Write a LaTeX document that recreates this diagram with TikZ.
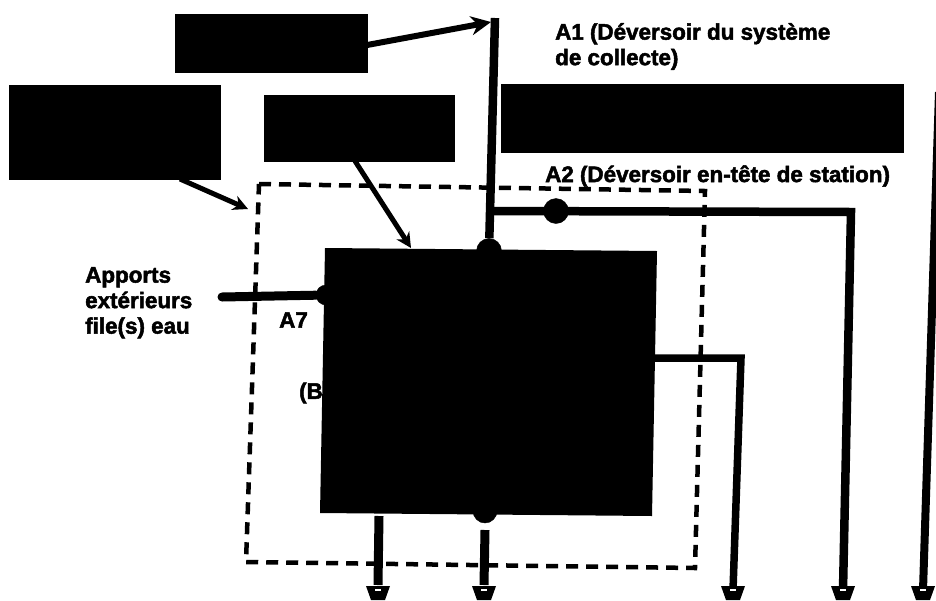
\documentclass[tikz,border=0pt]{standalone}
\usepackage{fontspec}
\setmainfont{Liberation Sans}[BoldFeatures={FakeBold=2.2}]
\usetikzlibrary{arrows.meta}
\tikzset{
  x=1pt,y=-1pt,
  blk/.style={fill=black,draw=black},
  dash box/.style={line width=4.5pt,dash pattern=on 12pt off 8pt},
  lbl/.style={font=\fontsize{22.4}{25.5}\selectfont\bfseries,inner sep=0pt,align=left},
  foot/.pic={\fill (-12,-4) -- (12,-4) -- (7,10) -- (-7,10) -- cycle; \fill[white] (-3,-1) rectangle (3,1);}
}
\begin{document}
\begin{tikzpicture}
\useasboundingbox (0,0) rectangle (936,600);
\node[blk,minimum width=192pt,minimum height=58pt,inner sep=0pt] (b1) at (271,43) {};
\node[blk,minimum width=211pt,minimum height=94pt,inner sep=0pt] (b2) at (115,132) {};
\node[blk,minimum width=190pt,minimum height=66pt,inner sep=0pt] (b3) at (359,128) {};
\node[blk,minimum width=402pt,minimum height=68pt,inner sep=0pt] (b4) at (702,118) {};
\coordinate (top) at (495,18);
\coordinate (j1) at (491,211);
\coordinate (c1) at (851,212);
\coordinate (f3) at (843,590);
\coordinate (f2) at (733,590);
\coordinate (f4) at (923,590);
\coordinate (t4) at (939,92);
\coordinate (e1) at (741,358);
\coordinate (e0) at (650,358);
\draw[dash box] (259,184) -- (705,191) -- (695,568) -- (246,562) -- cycle;
\node[lbl,anchor=west] (t5) at (299,393) {(B};
\fill (325,248) -- (657,251) -- (652,516) -- (320,513) -- cycle;
\node[blk,circle,minimum size=25pt,inner sep=0pt] (d1) at (489,251) {};
\node[blk,circle,minimum size=25pt,inner sep=0pt] (d2) at (556,211) {};
\node[blk,circle,minimum size=24pt,inner sep=0pt] (d3) at (485,511) {};
\node[blk,circle,minimum size=20pt,inner sep=0pt] (d4) at (326,295) {};
\draw[line width=8.5pt] (top) -- (d1);
\draw[line width=8.5pt] (j1) -- (c1) -- (f3);
\draw[line width=7.5pt] (e0) -- (e1) -- (f2);
\draw[line width=8pt] (t4) -- (f4);
\draw[line width=9pt,line cap=round] (222,297) -- (d4);
\draw[line width=9pt] (379,516) -- (378,585);
\draw[line width=9pt] (485,530) -- (484,585);
\pic at (378,590) {foot};
\pic at (484,590) {foot};
\pic at (f2) {foot};
\pic at (f3) {foot};
\pic at (f4) {foot};
\draw[line width=6pt,-{Stealth[length=20pt,width=19pt]}] (b1.east) ++(0,2) -- (491,22);
\draw[line width=5pt,-{Stealth[length=15pt,width=15pt]}] (180,179) -- (248,209);
\draw[line width=5pt,-{Stealth[length=15pt,width=15pt]}] (355,161) -- (411,248);
\node[lbl,anchor=north west] (t1) at (555,23) {A1 (Déversoir du système\\de collecte)};
\node[lbl,anchor=west] (t2) at (545,176) {A2 (Déversoir en-tête de station)};
\node[lbl,anchor=north west] (t3) at (85,267) {Apports\\extérieurs\\file(s) eau};
\node[lbl,anchor=west] (t4a) at (279,320) {A7};
\end{tikzpicture}
\end{document}
